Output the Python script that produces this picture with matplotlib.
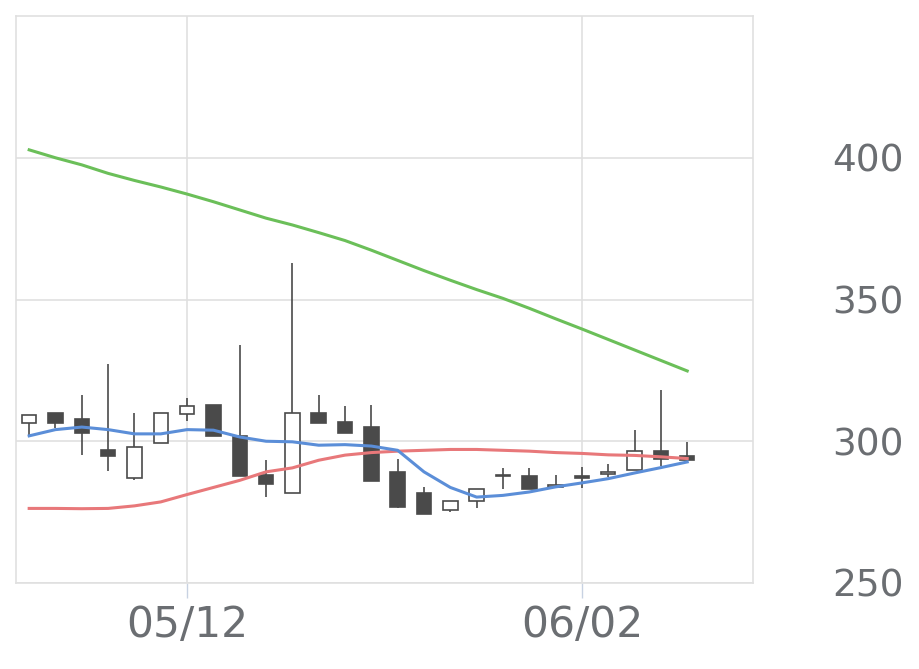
import matplotlib.pyplot as plt

dates = ['04/30', '05/01', '05/02', '05/07', '05/08', '05/09', '05/12', '05/13',
         '05/14', '05/15', '05/16', '05/19', '05/20', '05/21', '05/22', '05/23',
         '05/26', '05/27', '05/28', '05/29', '05/30', '06/02', '06/03', '06/04',
         '06/05', '06/06']
opens = [306.5, 309.8, 307.9, 296.8, 287.2, 299.5, 309.5, 312.7, 302.0, 288.0,
         281.8, 309.8, 306.8, 305.0, 289.2, 281.9, 275.9, 278.9, 287.6, 287.9,
         283.7, 287.9, 288.5, 290.0, 296.7, 294.8]
closes = [309.1, 306.5, 302.9, 294.7, 297.9, 309.8, 312.5, 301.8, 287.6, 284.8,
          309.8, 306.5, 302.9, 285.9, 276.8, 274.5, 278.9, 283.1, 288.0, 283.0,
          284.7, 287.2, 289.0, 296.6, 293.6, 293.4]
highs = [309.1, 309.8, 316.2, 327.1, 309.8, 309.8, 315.1, 312.7, 334.0, 293.3,
         362.9, 316.2, 312.4, 312.7, 293.9, 283.9, 278.9, 283.1, 290.4, 290.4,
         288.0, 290.9, 292.1, 303.9, 318.0, 299.8]
lows = [302.1, 304.8, 295.3, 289.4, 286.5, 299.5, 307.1, 301.8, 287.6, 280.3,
        281.8, 306.5, 302.9, 285.9, 276.3, 274.5, 275.1, 276.5, 283.3, 283.0,
        283.7, 283.5, 287.4, 290.0, 291.2, 293.4]
ma_short = [301.9, 304.1, 305.0, 304.1, 302.6, 302.6, 304.1, 303.9, 301.5, 300.0,
            299.8, 298.6, 298.8, 298.3, 296.8, 289.2, 283.7, 280.3, 280.9, 282.1,
            283.9, 285.3, 286.8, 288.8, 290.7, 292.7]
ma_mid = [276.3, 276.3, 276.2, 276.3, 277.2, 278.6, 281.2, 283.7, 286.2, 289.2,
          290.6, 293.3, 295.1, 296.0, 296.5, 296.8, 297.1, 297.1, 296.8, 296.5,
          296.0, 295.7, 295.2, 295.0, 294.5, 293.9]
ma_long = [402.8, 400.0, 397.5, 394.5, 392.0, 389.7, 387.2, 384.5, 381.6, 378.7,
           376.3, 373.6, 370.8, 367.4, 363.8, 360.2, 356.8, 353.5, 350.4, 346.9,
           343.2, 339.6, 335.9, 332.2, 328.5, 324.8]
tick_dates = ['05/12', '06/02']
yticks = [250, 300, 350, 400]

dark = '#4a4a4a'
grid_c = '#e0e0e0'
text_c = '#6b6e72'

fig = plt.figure(figsize=(9.2, 6.69), dpi=100)
ax = fig.add_axes([0.0174, 0.1286, 0.8011, 0.8474])

x = list(range(len(dates)))
ax.vlines(x, lows, highs, color=dark, lw=1.2, zorder=3)
for i in x:
    up = closes[i] >= opens[i]
    lo = min(opens[i], closes[i])
    h = max(abs(closes[i] - opens[i]), 0.4)
    ax.bar(i, h, bottom=lo, width=0.55, color='white' if up else dark,
           edgecolor=dark, linewidth=1.2, zorder=4)

ax.plot(x, ma_long, color='#6bbf59', lw=2.2, zorder=5)
ax.plot(x, ma_mid, color='#e8787a', lw=2.2, zorder=5)
ax.plot(x, ma_short, color='#5b8ed8', lw=2.2, zorder=5)

ax.set_xlim(-0.5, 27.5)
ax.set_ylim(250, 450)
ax.set_xticks([dates.index(d) for d in tick_dates])
ax.set_xticklabels(tick_dates)
ax.set_yticks(yticks)
ax.yaxis.tick_right()
ax.grid(True, color=grid_c, lw=1.2, zorder=0)
ax.set_axisbelow(True)
for s in ax.spines.values():
    s.set_color(grid_c)
    s.set_linewidth(1.2)
ax.tick_params(axis='y', length=0, pad=57, labelsize=27, labelcolor=text_c)
ax.tick_params(axis='x', length=11, width=1, color='#c8d2e2', pad=4,
               labelsize=30.5, labelcolor=text_c)
for lab in ax.get_yticklabels():
    lab.set_horizontalalignment('left')
    lab.set_verticalalignment('center_baseline')

fig.savefig('out.png', dpi=100)
